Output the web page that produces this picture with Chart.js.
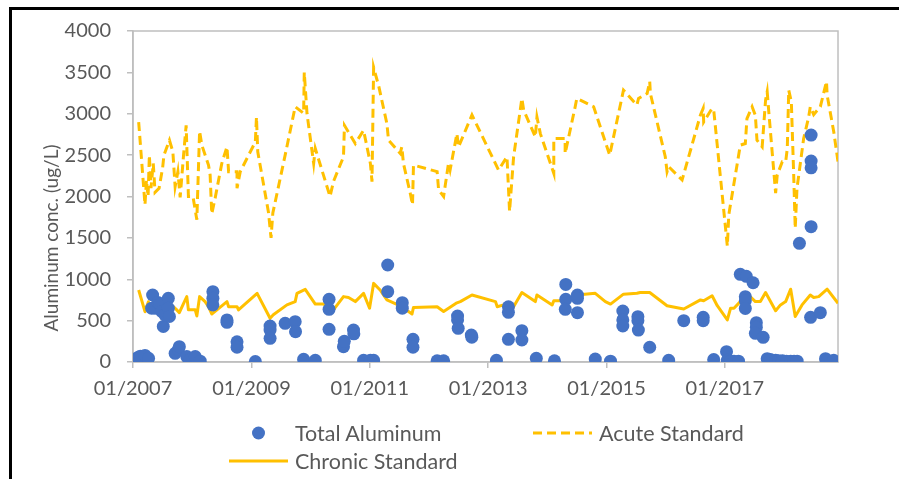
<!DOCTYPE html>
<html>
<head>
<meta charset="utf-8">
<script src="https://cdn.jsdelivr.net/npm/chart.js@4.4.1/dist/chart.umd.min.js"></script>
<style>
  html, body { margin: 0; padding: 0; background: #fff; }
  #wrap { position: relative; width: 899px; height: 479px; overflow: hidden; }
  #chart { display: block; }
  #frame { position: absolute; left: 9px; top: 7px; right: -10px; bottom: -10px;
           border-top: 3px solid #000; border-left: 3px solid #000; pointer-events: none; }
  #legend { position: absolute; left: 0; top: 0; font: 21.5px Lato, sans-serif; color: #595959; }
  .item { position: absolute; display: flex; align-items: center; height: 26px; gap: 7px; white-space: nowrap; }
  .item svg { display: block; }
</style>
</head>
<body>
<div id="wrap">
  <canvas id="chart" width="899" height="479"></canvas>
  <div id="frame"></div>
  <div id="legend"></div>
</div>
<script>
// sample dates and total aluminum (ug/L)
const alDates = [
  "2007-01-27", "2007-02-15", "2007-03-16", "2007-04-07", "2007-04-26", "2007-05-02", "2007-05-17", "2007-06-04",
  "2007-06-17", "2007-06-27", "2007-07-07", "2007-07-17", "2007-08-07", "2007-08-07", "2007-08-14", "2007-09-18",
  "2007-10-08", "2007-10-14", "2007-11-29", "2007-12-19", "2008-01-20", "2008-02-20", "2008-05-08", "2008-05-08",
  "2008-05-08", "2008-08-03", "2008-08-03", "2008-10-04", "2008-10-04", "2009-01-25", "2009-04-26", "2009-04-26",
  "2009-04-26", "2009-07-28", "2009-09-28", "2009-09-30", "2009-11-19", "2010-01-30", "2010-04-25", "2010-04-25",
  "2010-04-25", "2010-07-23", "2010-07-28", "2010-09-23", "2010-09-25", "2010-11-24", "2011-01-05", "2011-01-25",
  "2011-04-22", "2011-04-22", "2011-07-21", "2011-07-21", "2011-09-25", "2011-09-25", "2012-02-21", "2012-04-01",
  "2012-06-26", "2012-06-26", "2012-06-30", "2012-09-19", "2012-09-22", "2013-02-21", "2013-05-06", "2013-05-06",
  "2013-05-06", "2013-07-28", "2013-07-28", "2013-10-25", "2014-02-14", "2014-04-25", "2014-04-25", "2014-04-22",
  "2014-07-06", "2014-07-06", "2014-07-06", "2014-10-24", "2015-01-26", "2015-04-12", "2015-04-12", "2015-04-12",
  "2015-07-14", "2015-07-14", "2015-07-17", "2015-09-25", "2016-01-20", "2016-04-22", "2016-08-20", "2016-08-20",
  "2016-10-24", "2017-01-11", "2017-01-16", "2017-02-05", "2017-02-26", "2017-03-26", "2017-04-06", "2017-05-13",
  "2017-06-24", "2017-05-07", "2017-05-07", "2017-05-07", "2017-07-14", "2017-07-14", "2017-07-08", "2017-08-25",
  "2017-09-19", "2017-10-09", "2017-11-10", "2017-11-28", "2017-12-22", "2018-01-16", "2018-02-11", "2018-03-04",
  "2018-03-23", "2018-04-06", "2018-06-17", "2018-06-17", "2018-06-17", "2018-06-17", "2018-06-14", "2018-08-13",
  "2018-09-14", "2018-11-04"
];
const alValues = [
  50, 70, 80, 45, 650, 810, 650, 720,
  700, 610, 430, 570, 770, 650, 550, 105,
  150, 185, 65, 25, 65, 10, 850, 770,
  690, 508, 480, 245, 178, 5, 435, 386,
  286, 467, 487, 366, 32, 20, 757, 637,
  395, 185, 250, 386, 340, 20, 20, 20,
  1172, 850, 717, 650, 274, 178, 15, 15,
  556, 508, 407, 326, 300, 20, 668, 600,
  274, 378, 266, 45, 15, 938, 757, 637,
  810, 770, 596, 35, 10, 616, 508, 435,
  548, 500, 386, 178, 20, 500, 540, 500,
  30, 125, 20, 10, 10, 10, 1060, 1035,
  958, 790, 740, 648, 475, 420, 346, 298,
  40, 30, 20, 15, 15, 10, 10, 10,
  10, 1434, 2742, 2428, 2347, 1635, 540, 596,
  40, 20
];

// acute standard
const acuteDates = [
  "2007-02-05", "2007-03-16", "2007-03-25", "2007-04-04", "2007-04-12", "2007-04-22", "2007-05-06", "2007-05-17", "2007-06-11", "2007-07-03",
  "2007-07-11", "2007-08-14", "2007-09-04", "2007-09-18", "2007-10-05", "2007-10-19", "2007-11-09", "2007-11-25", "2007-12-09", "2008-01-06",
  "2008-01-30", "2008-02-16", "2008-03-01", "2008-04-11", "2008-04-21", "2008-05-01", "2008-05-22", "2008-07-02", "2008-08-03", "2008-08-13",
  "2008-10-04", "2008-10-04", "2008-10-24", "2009-01-25", "2009-02-01", "2009-02-09", "2009-04-16", "2009-05-02", "2009-05-13", "2009-07-28",
  "2009-09-28", "2009-11-19", "2009-11-23", "2009-12-10", "2010-01-20", "2010-01-30", "2010-05-01", "2010-05-22", "2010-07-23", "2010-07-29",
  "2010-10-04", "2010-11-24", "2011-01-05", "2011-01-15", "2011-01-25", "2011-02-26", "2011-04-17", "2011-04-27", "2011-07-08", "2011-07-18",
  "2011-07-28", "2011-09-08", "2011-09-22", "2011-09-28", "2012-02-21", "2012-03-01", "2012-04-01", "2012-05-01", "2012-05-11", "2012-06-22",
  "2012-07-02", "2012-09-23", "2013-03-06", "2013-04-27", "2013-05-13", "2013-06-07", "2013-07-28", "2013-08-08", "2013-10-19", "2013-10-29",
  "2013-11-19", "2014-02-10", "2014-02-10", "2014-04-21", "2014-04-21", "2014-06-22", "2014-07-02", "2014-10-14", "2015-01-21", "2015-04-16",
  "2015-07-08", "2015-07-18", "2015-09-09", "2015-09-25", "2015-09-29", "2015-12-30", "2016-01-10", "2016-01-20", "2016-04-12", "2016-08-03",
  "2016-08-20", "2016-08-23", "2016-10-14", "2016-10-24", "2017-01-16", "2017-01-25", "2017-04-06", "2017-05-07", "2017-05-17", "2017-06-18",
  "2017-07-08", "2017-07-18", "2017-08-19", "2017-09-09", "2017-09-19", "2017-09-29", "2017-11-10", "2017-11-20", "2017-12-21", "2018-01-11",
  "2018-01-21", "2018-01-30", "2018-02-15", "2018-03-01", "2018-03-11", "2018-03-22", "2018-05-02", "2018-06-02", "2018-06-12", "2018-07-03",
  "2018-08-13", "2018-09-20", "2018-09-24", "2018-11-04", "2018-11-30"
];
const acuteValues = [
  2900, 1900, 2200, 2000, 2500, 2100, 2400, 2050, 2100, 2350,
  2500, 2680, 2540, 2120, 2300, 1990, 2500, 2860, 2000, 2000,
  1720, 2790, 2620, 2380, 2260, 1790, 1980, 2400, 2600, 2300,
  2300, 2100, 2300, 2660, 2960, 2540, 1810, 1500, 1800, 2500,
  3085, 3005, 3500, 3000, 2400, 2580, 2000, 2180, 2480, 2860,
  2640, 2800, 2400, 2180, 3560, 3330, 2880, 2680, 2520, 2600,
  2400, 2040, 1900, 2380, 2300, 2080, 2000, 2400, 2320, 2760,
  2600, 2985, 2320, 2480, 1820, 2480, 3185, 3045, 2720, 2960,
  2760, 2280, 2700, 2700, 2520, 3085, 3185, 3085, 2500, 3285,
  3105, 3185, 3245, 3390, 3245, 2480, 2300, 2360, 2200, 2985,
  3065, 2900, 3065, 3045, 1400, 1780, 2620, 2640, 2940, 3085,
  2980, 2680, 2600, 3165, 3265, 3020, 2040, 2260, 2420, 2420,
  2580, 3285, 3145, 2300, 1615, 2100, 2700, 2960, 3085, 2990,
  3085, 3390, 3225, 2780, 2420
];

// chronic standard
const chronicDates = [
  "2007-02-05", "2007-03-16", "2007-04-06", "2007-04-16", "2007-05-17", "2007-07-07", "2007-09-08", "2007-09-28", "2007-10-14", "2007-11-05",
  "2007-11-29", "2007-12-09", "2008-01-20", "2008-01-30", "2008-02-16", "2008-03-21", "2008-04-11", "2008-05-01", "2008-06-02", "2008-08-03",
  "2008-08-13", "2008-10-04", "2008-10-13", "2009-02-05", "2009-04-26", "2009-05-16", "2009-08-08", "2009-09-28", "2009-10-09", "2009-11-29",
  "2010-01-30", "2010-03-21", "2010-04-11", "2010-05-22", "2010-07-23", "2010-08-23", "2010-10-04", "2010-11-24", "2010-12-31", "2011-01-25",
  "2011-03-06", "2011-04-17", "2011-07-18", "2011-09-19", "2011-09-28", "2012-02-21", "2012-04-01", "2012-06-22", "2012-07-13", "2012-09-23",
  "2013-02-15", "2013-02-26", "2013-04-06", "2013-05-27", "2013-07-28", "2013-10-19", "2013-10-29", "2014-01-31", "2014-02-10", "2014-04-21",
  "2014-07-02", "2014-10-24", "2014-12-25", "2015-01-26", "2015-04-16", "2015-07-08", "2015-07-28", "2015-09-25", "2016-01-10", "2016-04-22",
  "2016-08-03", "2016-08-23", "2016-10-14", "2016-11-15", "2017-01-16", "2017-02-05", "2017-02-26", "2017-04-06", "2017-05-27", "2017-07-08",
  "2017-08-08", "2017-09-09", "2017-11-10", "2017-12-10", "2018-01-11", "2018-02-11", "2018-03-11", "2018-04-22", "2018-06-12", "2018-07-03",
  "2018-08-03", "2018-09-24", "2018-11-30"
];
const chronicValues = [
  870, 608, 728, 608, 690, 730, 668, 630, 596, 690,
  790, 630, 630, 556, 790, 730, 668, 580, 630, 730,
  668, 668, 630, 830, 528, 570, 690, 730, 830, 878,
  700, 700, 676, 630, 790, 780, 730, 830, 650, 950,
  870, 750, 668, 580, 660, 668, 610, 715, 730, 810,
  730, 668, 690, 630, 840, 730, 810, 690, 740, 740,
  810, 830, 730, 700, 820, 830, 840, 840, 680, 640,
  750, 740, 800, 680, 508, 650, 650, 730, 810, 730,
  730, 840, 620, 690, 730, 880, 550, 690, 810, 780,
  790, 880, 710
];

const xTickYears = [2007, 2009, 2011, 2013, 2015, 2017];
const yAxisTitle = "Aluminum conc. (ug/L)";

const textColor = "#595959";
const axisColor = "#bfbfbf";
const gold = "#ffc000";
const blue = "#4472c4";
const tickFont = { family: "Lato", size: 20 };

const toPoints = (dates, values) =>
  dates.map((d, i) => ({ x: Date.parse(d), y: values[i] }));

// light border round the plot area (Excel style)
const plotFrame = {
  id: "plotFrame",
  beforeDatasetsDraw(chart) {
    const { ctx, chartArea: a } = chart;
    ctx.save();
    ctx.strokeStyle = axisColor;
    ctx.lineWidth = 1.5;
    ctx.strokeRect(a.left, a.top, a.right - a.left, a.bottom - a.top);
    ctx.restore();
  },
};

// axis title sits a bit below centre in the original
const yTitle = {
  id: "yTitle",
  afterDraw(chart) {
    const ctx = chart.ctx;
    ctx.save();
    ctx.translate(52, 238);
    ctx.rotate(-Math.PI / 2);
    ctx.font = "19px Lato";
    ctx.fillStyle = textColor;
    ctx.textAlign = "center";
    ctx.textBaseline = "middle";
    ctx.fillText(yAxisTitle, 0, 0);
    ctx.restore();
  },
};

const ctx = document.getElementById("chart").getContext("2d");

const chart = new Chart(ctx, {
  type: "scatter",
  data: {
    datasets: [
      {
        type: "scatter",
        label: "Total Aluminum",
        data: toPoints(alDates, alValues),
        backgroundColor: blue,
        borderWidth: 0,
        pointRadius: 6.5,
        pointHoverRadius: 6.5,
      },
      {
        type: "line",
        label: "Acute Standard",
        data: toPoints(acuteDates, acuteValues),
        borderColor: gold,
        backgroundColor: gold,
        borderWidth: 3,
        borderDash: [9, 5],
        pointRadius: 0,
        tension: 0,
        fill: false,
      },
      {
        type: "line",
        label: "Chronic Standard",
        data: toPoints(chronicDates, chronicValues),
        borderColor: gold,
        backgroundColor: gold,
        borderWidth: 3,
        borderJoinStyle: "round",
        pointRadius: 0,
        tension: 0,
        fill: false,
      },
    ],
  },
  options: {
    responsive: false,
    animation: false,
    layout: { padding: { left: 0, top: 31, right: 61, bottom: 67 } },
    scales: {
      x: {
        type: "linear",
        bounds: "data",
        min: Date.UTC(2007, 0, 1),
        max: Date.UTC(2018, 10, 30),
        afterBuildTicks: (scale) => {
          scale.ticks = xTickYears.map((y) => ({ value: Date.UTC(y, 0, 1) }));
        },
        afterFit: (scale) => {
          scale.height = 50;
        },
        ticks: {
          autoSkip: false,
          maxRotation: 0,
          color: textColor,
          font: tickFont,
          padding: 9,
          callback: (v) => "01/" + new Date(v).getUTCFullYear(),
        },
        grid: { drawOnChartArea: false, tickLength: 6, color: axisColor, lineWidth: 1.5 },
        border: { color: axisColor, width: 1.5 },
      },
      y: {
        min: 0,
        max: 4000,
        afterFit: (scale) => {
          scale.width = 133;
        },
        ticks: {
          stepSize: 500,
          color: textColor,
          font: tickFont,
          padding: 16,
          callback: (v) => String(v),
        },
        grid: { drawOnChartArea: false, tickLength: 6, color: axisColor, lineWidth: 1.5 },
        border: { color: axisColor, width: 1.5 },
      },
    },
    plugins: {
      legend: { display: false },
      tooltip: { enabled: false },
    },
  },
  plugins: [plotFrame, yTitle],
});

// legend laid out in two columns like the Excel one
const legendSlots = [
  { left: 229, top: 433 },
  { left: 533, top: 433 },
  { left: 229, top: 461 },
];

function swatch(ds) {
  if (ds.type === "scatter") {
    return `<svg width="59" height="14"><circle cx="29.5" cy="7" r="6.5" fill="${ds.backgroundColor}"/></svg>`;
  }
  const dash = ds.borderDash ? ` stroke-dasharray="${ds.borderDash.join(" ")}"` : "";
  return `<svg width="59" height="6"><line x1="0" y1="3" x2="59" y2="3" stroke="${ds.borderColor}" stroke-width="${ds.borderWidth}"${dash}/></svg>`;
}

const legendEl = document.getElementById("legend");
legendEl.innerHTML = chart.data.datasets
  .map((ds, i) => {
    const s = legendSlots[i];
    return `<div class="item" style="left:${s.left}px;top:${s.top - 13}px">${swatch(ds)}<span>${ds.label}</span></div>`;
  })
  .join("");
</script>
</body>
</html>
